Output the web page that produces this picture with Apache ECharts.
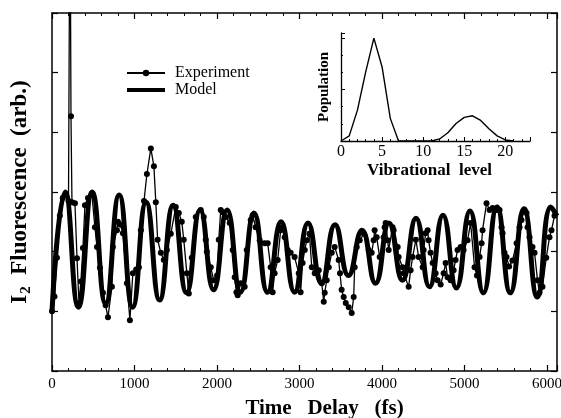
<!DOCTYPE html>
<html><head><meta charset="utf-8">
<script src="https://cdn.jsdelivr.net/npm/echarts@6/dist/echarts.min.js"></script>
<style>html,body{margin:0;padding:0;background:#fff}#c{width:561px;height:418px}</style>
</head><body><div id="c"></div>
<script>
// Main axis ticks
const xTicks = ['0','1000','2000','3000','4000','5000','6000'];
// Model curve (extrema), time in fs
const modelTime = [0,160,320,487,650,814,977,1141,1304,1468,1631,1795,1958,2122,2285,2449,2612,2776,2939,3103,3266,3430,3593,3757,3920,4084,4247,4411,4574,4738,4901,5065,5228,5392,5555,5719,5882,6046,6120];
const modelValue = [1.0,3.0,1.07,3.0,1.13,2.95,1.07,2.83,1.19,2.78,1.31,2.7,1.36,2.7,1.32,2.65,1.32,2.5,1.32,2.48,1.47,2.45,1.6,2.36,1.47,2.48,1.52,2.56,1.41,2.61,1.39,2.68,1.31,2.75,1.31,2.72,1.24,2.75,2.6];
// Experiment points
const expTime = [0,30,60,95,130,165,200,218,230,242,278,303,327,350,375,399,436,484,520,545,581,617,650,678,726,738,787,799,830,859,908,944,980,1020,1053,1077,1115,1150,1198,1235,1258,1280,1319,1355,1392,1440,1500,1537,1573,1597,1634,1658,1694,1742,1803,1839,1863,1876,1924,1960,2000,2021,2045,2069,2105,2154,2190,2214,2235,2250,2287,2335,2360,2408,2432,2468,2517,2577,2614,2650,2674,2698,2735,2771,2795,2820,2856,2892,2940,2990,3013,3037,3063,3087,3120,3148,3184,3233,3269,3293,3305,3329,3354,3390,3426,3474,3490,3510,3535,3560,3596,3632,3656,3668,3693,3729,3780,3838,3874,3898,3910,3935,3971,4019,4031,4043,4068,4080,4128,4140,4189,4201,4249,4262,4322,4346,4370,4410,4443,4492,4504,4528,4552,4564,4588,4613,4649,4673,4710,4746,4770,4794,4831,4867,4891,4915,4952,4988,5036,5073,5121,5150,5182,5206,5218,5266,5303,5339,5387,5424,5448,5460,5484,5508,5540,5580,5630,5666,5690,5727,5751,5763,5787,5823,5848,5884,5908,5944,5990,6029,6053,6090];
const expValue = [1.0,1.25,1.9,2.6,2.9,2.95,2.85,8.5,4.27,2.83,2.81,1.89,1.14,1.5,2.06,2.78,2.9,2.95,2.41,2.08,1.73,1.31,1.1,0.9,1.41,2.08,2.36,2.5,2.45,2.31,1.47,0.85,1.64,1.7,1.74,2.36,2.85,3.3,3.73,3.43,2.83,2.2,1.98,1.86,2.03,2.3,2.75,2.65,2.5,2.2,1.64,1.3,1.9,2.58,2.7,2.58,2.2,2.0,1.74,1.52,1.6,2.2,2.7,2.66,2.58,2.48,2.03,1.57,1.32,1.27,1.47,1.41,2.03,2.53,2.61,2.41,2.19,2.14,2.14,1.74,1.32,1.64,1.86,2.36,2.41,2.24,2.03,1.98,1.91,1.64,1.32,1.81,2.03,2.19,2.3,1.74,1.64,1.69,1.47,1.16,1.31,1.52,1.74,1.98,2.08,1.86,1.64,1.36,1.24,1.14,1.07,0.97,1.24,1.74,2.08,2.19,2.3,2.03,1.98,2.19,2.36,2.24,1.91,2.24,2.41,2.48,2.19,2.03,2.41,2.36,2.08,1.91,1.74,1.64,1.41,1.69,1.91,2.2,1.91,1.74,2.03,2.31,2.36,2.19,1.98,1.81,1.64,1.52,1.45,1.64,1.81,1.57,1.52,1.69,1.86,2.03,2.08,2.03,2.19,2.48,1.74,1.6,1.91,2.14,2.36,2.81,2.7,2.73,2.7,2.7,2.41,2.31,1.98,1.91,1.75,1.85,2.14,2.41,2.53,2.7,2.65,2.41,2.24,2.08,1.98,1.52,1.31,1.41,1.9,2.24,2.36,2.6];
// Inset: population vs vibrational level
const vibLevel = [0,1,2,3,4,5,6,7,8,9,10,11,12,13,14,15,16,17,18,19,20,21];
const population = [0,0.05,0.3,0.67,1.0,0.72,0.22,0,0,0,0,0,0.02,0.08,0.17,0.23,0.245,0.2,0.12,0.05,0.01,0];

const serif = '"Liberation Serif","DejaVu Serif",serif';
const pair = (a,b) => a.map((v,i)=>[v,b[i]]);
const chart = echarts.init(document.getElementById('c'));
const axLine = {show:true, onZero:false, lineStyle:{color:'#000', width:1.5}};
const tick = {inside:true, length:6, lineStyle:{color:'#000', width:1.2}};
chart.setOption({
  animation:false,
  backgroundColor:'#fff',
  grid:[{left:52, top:13, right:4, bottom:47, containLabel:false, outerBoundsMode:'none'},
        {left:341, top:33, width:189, height:108, containLabel:false, outerBoundsMode:'none'}],
  legend:{
    orient:'vertical', left:125, top:65, padding:0, itemWidth:38, itemHeight:8, itemGap:1,
    textStyle:{fontFamily:serif, fontSize:16, color:'#000', padding:[0,0,0,5]},
    data:[{name:'Experiment'},
          {name:'Model', itemStyle:{opacity:0, color:'rgba(0,0,0,0)', borderWidth:0}, lineStyle:{width:4, color:'#000'}}]
  },
  xAxis:[
    {gridIndex:0, type:'value', min:0, max:6120, interval:1000, position:'bottom',
     axisLine:axLine, axisTick:tick,
     minorTick:{show:true, splitNumber:5, length:3, lineStyle:{color:'#000'}},
     splitLine:{show:false},
     axisLabel:{fontFamily:serif, fontSize:15, color:'#000', margin:6, showMaxLabel:false,
       formatter:(v)=> xTicks.includes(String(v)) ? String(v) : ''},
     name:'Time   Delay   (fs)', nameLocation:'middle', nameGap:27,
     nameTextStyle:{fontFamily:serif, fontSize:21, fontWeight:'bold', color:'#000', padding:[0,0,0,40]}},
    {gridIndex:0, type:'value', min:0, max:6120, interval:1000, position:'top',
     axisLine:axLine, axisTick:tick,
     minorTick:{show:true, splitNumber:5, length:3, lineStyle:{color:'#000'}},
     splitLine:{show:false}, axisLabel:{show:false}},
    {gridIndex:1, type:'value', min:0, max:23, interval:5, position:'bottom',
     axisLine:{show:true, onZero:false, lineStyle:{color:'#000', width:1.3}},
     axisTick:{inside:true, length:4, lineStyle:{color:'#000'}},
     minorTick:{show:true, splitNumber:5, length:2, lineStyle:{color:'#000'}},
     splitLine:{show:false},
     axisLabel:{fontFamily:serif, fontSize:16, color:'#000', margin:3, showMaxLabel:false},
     name:'Vibrational  level', nameLocation:'middle', nameGap:21,
     nameTextStyle:{fontFamily:serif, fontSize:17, fontWeight:'bold', color:'#000', padding:[0,12,0,0]}}
  ],
  yAxis:[
    {gridIndex:0, type:'value', min:0, max:6, interval:1, position:'left',
     axisLine:axLine, axisTick:tick,
     splitLine:{show:false}, axisLabel:{show:false},
     name:'{a|I}{s|2}{a|  Fluorescence  (arb.)}', nameLocation:'middle', nameGap:18,
     nameTextStyle:{fontFamily:serif, fontSize:23, fontWeight:'bold', color:'#000',
       rich:{a:{fontFamily:serif, fontSize:23, fontWeight:'bold', color:'#000'},
             s:{fontFamily:serif, fontSize:15, fontWeight:'bold', color:'#000', verticalAlign:'bottom', padding:[13,0,0,1]}}}},
    {gridIndex:0, type:'value', min:0, max:6, interval:1, position:'right',
     axisLine:axLine, axisTick:tick,
     splitLine:{show:false}, axisLabel:{show:false}},
    {gridIndex:1, type:'value', min:0, max:1.05, interval:0.5, position:'left',
     axisLine:{show:true, onZero:false, lineStyle:{color:'#000', width:1.3}},
     axisTick:{inside:true, length:4, lineStyle:{color:'#000'}},
     minorTick:{show:true, splitNumber:3, length:2, lineStyle:{color:'#000'}},
     splitLine:{show:false}, axisLabel:{show:false},
     name:'Population', nameLocation:'middle', nameGap:9,
     nameTextStyle:{fontFamily:serif, fontSize:15, fontWeight:'bold', color:'#000'}}
  ],
  series:[
    {name:'Model', type:'line', xAxisIndex:0, yAxisIndex:0, data:pair(modelTime, modelValue),
     smooth:0.5, showSymbol:false, symbol:'none', lineStyle:{color:'#000', width:5}, itemStyle:{color:'#000'}, z:2},
    {name:'Experiment', type:'line', xAxisIndex:0, yAxisIndex:0, data:pair(expTime, expValue),
     symbol:'circle', symbolSize:6, showAllSymbol:true, lineStyle:{color:'#000', width:1.3}, itemStyle:{color:'#000'}, z:3, clip:true},
    {name:'Population', type:'line', xAxisIndex:2, yAxisIndex:2, data:pair(vibLevel, population),
     smooth:false, symbol:'none', lineStyle:{color:'#000', width:1.4}, z:3}
  ]
});
</script></body></html>
